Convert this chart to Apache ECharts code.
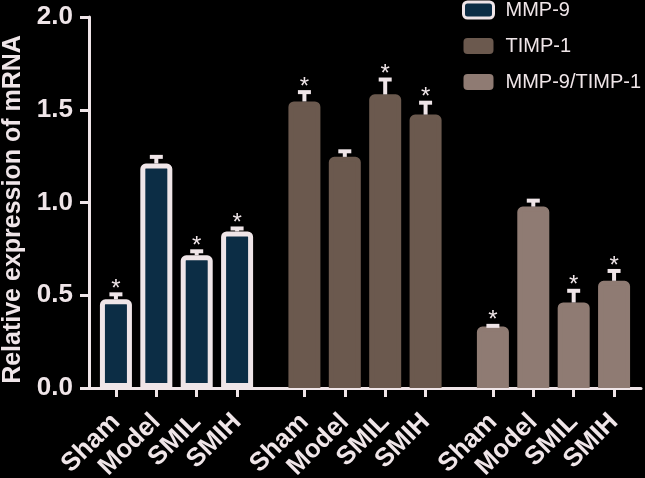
<!DOCTYPE html>
<html><head><meta charset="utf-8">
<script src="https://cdn.jsdelivr.net/npm/echarts@6/dist/echarts.min.js"></script>
<style>html,body{margin:0;padding:0;background:#000;}#c{width:645px;height:478px;}</style>
</head><body><div id="c"></div>
<script>
// ---- data ----
const seriesNames = ['MMP-9', 'TIMP-1', 'MMP-9/TIMP-1'];
const conditions = ['Sham', 'Model', 'SMIL', 'SMIH'];
const mmp9Mean = [0.478, 1.21, 0.715, 0.844];
const mmp9Err = [0.027, 0.036, 0.022, 0.016];
const timp1Mean = [1.545, 1.246, 1.583, 1.474];
const timp1Err = [0.050, 0.030, 0.080, 0.064];
const ratioMean = [0.331, 0.978, 0.461, 0.578];
const ratioErr = [0.004, 0.032, 0.063, 0.053];
const mmp9Sig = [1, 0, 1, 1];
const timp1Sig = [1, 0, 1, 1];
const ratioSig = [1, 0, 1, 1];
const yTicks = [0, 0.5, 1.0, 1.5, 2.0];

// ---- layout of category slots ----
const LEAD = 2, BAR_STEP = 3, GROUP_STEP = 14, NSLOTS = 42;
const slotOf = (g, j) => LEAD + g * GROUP_STEP + j * BAR_STEP;
const categories = new Array(NSLOTS).fill('');
for (let g = 0; g < 3; g++) conditions.forEach((c, j) => { categories[slotOf(g, j)] = c; });

const LIGHT = '#efe5e8';
const colors = ['#0c2d45', '#6b594e', '#8f7b73'];
const means = [mmp9Mean, timp1Mean, ratioMean];
const errs = [mmp9Err, timp1Err, ratioErr];
const sigs = [mmp9Sig, timp1Sig, ratioSig];
const FONT = '"Liberation Sans", Arial, Helvetica, sans-serif';

const series = [];
means.forEach((m, g) => {
  const d = new Array(NSLOTS).fill('-');
  m.forEach((v, j) => { d[slotOf(g, j)] = v; });
  series.push({
    name: seriesNames[g], type: 'bar', data: d, barWidth: 32, barGap: '-100%',
    itemStyle: { color: colors[g], borderColor: g === 0 ? LIGHT : colors[g], borderWidth: 5, borderRadius: [3, 3, 0, 0] },
    z: 2
  });
});
const errData = [];
means.forEach((m, g) => m.forEach((v, j) => errData.push([slotOf(g, j), v, errs[g][j], sigs[g][j]])));
series.push({
  type: 'custom', z: 5, silent: true,
  encode: { x: 0, y: 1 },
  data: errData,
  renderItem: function (params, api) {
    const x = api.value(0), m = api.value(1), e = api.value(2), s = api.value(3);
    const p0 = api.coord([x, m]);
    const p1 = api.coord([x, m + e]);
    const children = [
      { type: 'rect', shape: { x: p0[0] - 2, y: p1[1], width: 4, height: Math.max(0, p0[1] - p1[1]) }, style: { fill: LIGHT } },
      { type: 'rect', shape: { x: p0[0] - 6.5, y: p1[1] - 2, width: 13, height: 4 }, style: { fill: LIGHT } }
    ];
    if (s) children.push({ type: 'text', style: { text: '*', x: p0[0], y: p1[1] - 5, align: 'center', verticalAlign: 'middle', fill: LIGHT, font: '24px ' + FONT } });
    return { type: 'group', children };
  }
});

const chart = echarts.init(document.getElementById('c'), null, { renderer: 'canvas' });
chart.setOption({
  backgroundColor: '#000',
  animation: false,
  grid: { left: 89, right: 4, top: 17, bottom: 90, containLabel: false, outerBoundsMode: 'none' },
  legend: {
    orient: 'vertical', left: 462, top: 0, padding: 0, itemWidth: 30, itemHeight: 16, itemGap: 16,
    icon: 'roundRect',
    textStyle: { color: LIGHT, fontSize: 20, fontFamily: FONT, lineHeight: 20, padding: [0, 0, 0, 7] },
    data: [
      { name: seriesNames[0], itemStyle: { color: colors[0], borderColor: LIGHT, borderWidth: 3 } },
      { name: seriesNames[1], itemStyle: { color: colors[1], borderWidth: 0 } },
      { name: seriesNames[2], itemStyle: { color: colors[2], borderWidth: 0 } }
    ]
  },
  xAxis: {
    type: 'category', data: categories, boundaryGap: false,
    axisLine: { lineStyle: { color: LIGHT, width: 3 } },
    axisTick: { length: 9, lineStyle: { color: LIGHT, width: 3 }, interval: (i, v) => v !== '' },
    axisLabel: { interval: 0, rotate: 45, margin: 30, color: LIGHT, fontSize: 26, fontWeight: 'bold', fontFamily: FONT },
    splitLine: { show: false }
  },
  yAxis: {
    type: 'value', min: yTicks[0], max: yTicks[yTicks.length - 1], interval: 0.5,
    name: 'Relative expression of mRNA', nameLocation: 'middle', nameGap: 60,
    nameTextStyle: { color: LIGHT, fontSize: 25, fontWeight: 'bold', fontFamily: FONT, padding: [0, 14, 0, 0] },
    axisLine: { show: true, lineStyle: { color: LIGHT, width: 3 } },
    axisTick: { show: true, length: 9, lineStyle: { color: LIGHT, width: 3 } },
    axisLabel: { margin: 16, color: LIGHT, fontSize: 26, fontWeight: 'bold', fontFamily: FONT, formatter: v => v.toFixed(1) },
    splitLine: { show: false }
  },
  series
});
</script></body></html>
